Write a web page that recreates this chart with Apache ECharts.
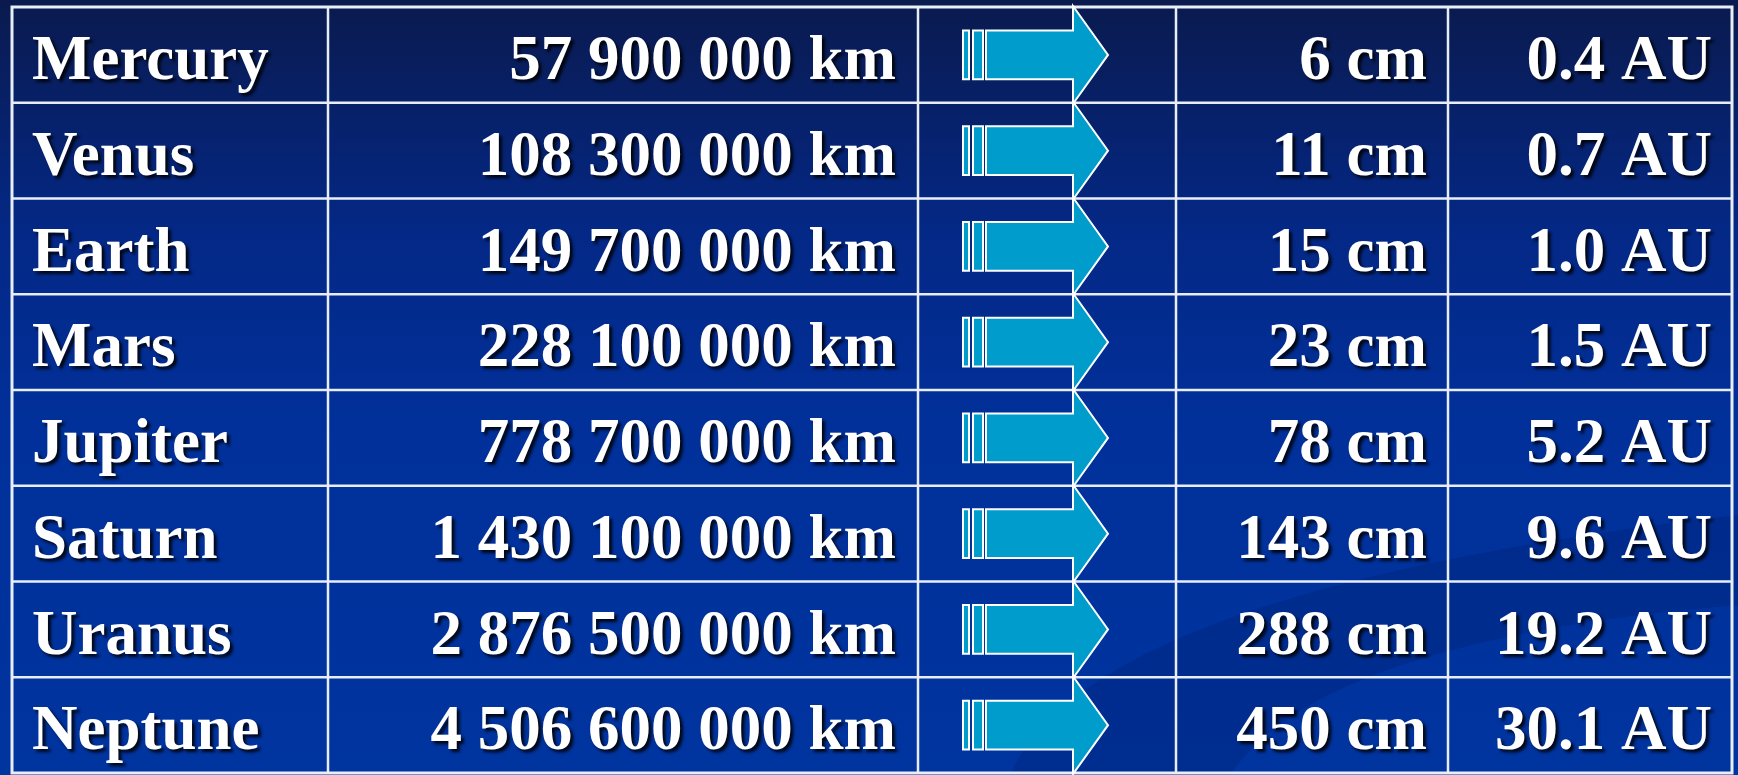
<!DOCTYPE html>
<html>
<head>
<meta charset="utf-8">
<script src="https://cdn.jsdelivr.net/npm/echarts@6/dist/echarts.min.js"></script>
<style>
html,body{margin:0;padding:0;background:#06226e;}
#chart{width:1738px;height:775px;}
</style>
</head>
<body>
<div id="chart"></div>
<script>
// ---- data ----
const planets = ['Mercury','Venus','Earth','Mars','Jupiter','Saturn','Uranus','Neptune'];
const distanceKm = [57900000,108300000,149700000,228100000,778700000,1430100000,2876500000,4506600000];
const scaleCm = [6,11,15,23,78,143,288,450];
const distanceAU = [0.4,0.7,1.0,1.5,5.2,9.6,19.2,30.1];

// ---- layout (column edges in axis units of the hidden x axis) ----
const colEdges = [0, 316, 906, 1164, 1436, 1720];
const PAD = 20;
const LINE = '#e8eef8';
const ARROW = '#009dcc';
const FONT = '"Liberation Serif","Times New Roman",serif';

function fmtKm(n){ return String(n).replace(/\B(?=(\d{3})+(?!\d))/g, ' ') + ' km'; }

// decorative background swoosh outline (quadratic curves sampled into a polygon)
function quad(p0, p1, p2, n){
  const pts = [];
  for (let k = 0; k <= n; k++) {
    const t = k / n, u = 1 - t;
    pts.push([u*u*p0[0] + 2*u*t*p1[0] + t*t*p2[0], u*u*p0[1] + 2*u*t*p1[1] + t*t*p2[1]]);
  }
  return pts;
}
const swoosh = quad([1010,775],[1090,590],[1738,515],30).concat(quad([1738,605],[1320,640],[1230,775],30));

const chart = echarts.init(document.getElementById('chart'));

const textBase = {
  fill: '#ffffff',
  fontFamily: FONT,
  fontWeight: 'bold',
  fontSize: 63,
  verticalAlign: 'middle',
  textShadowColor: 'rgba(0,0,0,0.85)',
  textShadowBlur: 3,
  textShadowOffsetX: 3,
  textShadowOffsetY: 3
};

const option = {
  backgroundColor: {
    type: 'linear', x: 0, y: 0, x2: 0, y2: 1,
    colorStops: [
      {offset: 0, color: '#0a1a4e'},
      {offset: 0.3, color: '#042886'},
      {offset: 0.55, color: '#01309a'},
      {offset: 1, color: '#00349f'}
    ]
  },
  animation: false,
  graphic: {
    elements: [{
      type: 'polygon',
      z: -1,
      silent: true,
      shape: { points: swoosh },
      style: { fill: 'rgba(0,18,85,0.2)' }
    }]
  },
  grid: {
    left: 12, right: 6, top: 7, bottom: 2,
    show: true,
    backgroundColor: 'transparent',
    borderColor: LINE,
    borderWidth: 3
  },
  xAxis: { type: 'value', min: 0, max: 1720, show: false },
  yAxis: { type: 'category', data: planets, inverse: true, show: false },
  series: [
    {
      type: 'custom',
      z: 2,
      silent: true,
      data: planets.map((p, i) => [0, i]),
      encode: { x: 0, y: 1 },
      renderItem: function (params, api) {
        const i = api.value(1);
        const c = api.coord([0, i]);
        const h = api.size([0, 1])[1];
        const top = c[1] - h / 2, bot = c[1] + h / 2;
        const x0 = api.coord([colEdges[0], i])[0];
        const x1 = api.coord([colEdges[colEdges.length - 1], i])[0];
        const children = [];
        if (i < planets.length - 1) {
          children.push({ type: 'line', shape: {x1: x0, y1: bot, x2: x1, y2: bot},
            style: { stroke: LINE, lineWidth: 2.5 } });
        }
        for (let k = 1; k < colEdges.length - 1; k++) {
          const x = api.coord([colEdges[k], i])[0];
          children.push({ type: 'line', shape: {x1: x, y1: top, x2: x, y2: bot},
            style: { stroke: LINE, lineWidth: 2.5 } });
        }
        return { type: 'group', children: children };
      }
    },
    {
      type: 'custom',
      z: 3,
      silent: true,
      data: planets.map((p, i) => [0, i]),
      encode: { x: 0, y: 1 },
      renderItem: function (params, api) {
        const i = api.value(1);
        const cy = api.coord([0, i])[1];
        const h = api.size([0, 1])[1];
        const s = h / 96;
        const xc = api.coord([colEdges[2], i])[0];
        const ty = cy + 8;
        const bh = 24.5 * s, hh = 49 * s;
        const bx0 = xc + 68, bx1 = xc + 155, tip = xc + 190;
        const children = [
          { type: 'rect', shape: {x: xc + 45, y: cy - bh, width: 6, height: 2 * bh},
            style: { fill: ARROW, stroke: '#ffffff', lineWidth: 2 } },
          { type: 'rect', shape: {x: xc + 55, y: cy - bh, width: 10, height: 2 * bh},
            style: { fill: ARROW, stroke: '#ffffff', lineWidth: 2 } },
          { type: 'polygon', shape: { points: [
              [bx0, cy - bh], [bx1, cy - bh], [bx1, cy - hh], [tip, cy],
              [bx1, cy + hh], [bx1, cy + bh], [bx0, cy + bh]
            ] },
            style: { fill: ARROW, stroke: '#ffffff', lineWidth: 2, lineJoin: 'miter' } },
          { type: 'text', x: api.coord([colEdges[0], i])[0] + PAD, y: ty,
            style: Object.assign({}, textBase, { text: planets[i], align: 'left' }) },
          { type: 'text', x: api.coord([colEdges[2], i])[0] - 22, y: ty,
            style: Object.assign({}, textBase, { text: fmtKm(distanceKm[i]), align: 'right' }) },
          { type: 'text', x: api.coord([colEdges[4], i])[0] - 21, y: ty,
            style: Object.assign({}, textBase, { text: scaleCm[i] + ' cm', align: 'right' }) },
          { type: 'text', x: api.coord([colEdges[5], i])[0] - 20, y: ty,
            style: Object.assign({}, textBase, { text: distanceAU[i].toFixed(1) + ' AU', align: 'right' }) }
        ];
        return { type: 'group', children: children };
      }
    }
  ]
};

chart.setOption(option);
</script>
</body>
</html>
